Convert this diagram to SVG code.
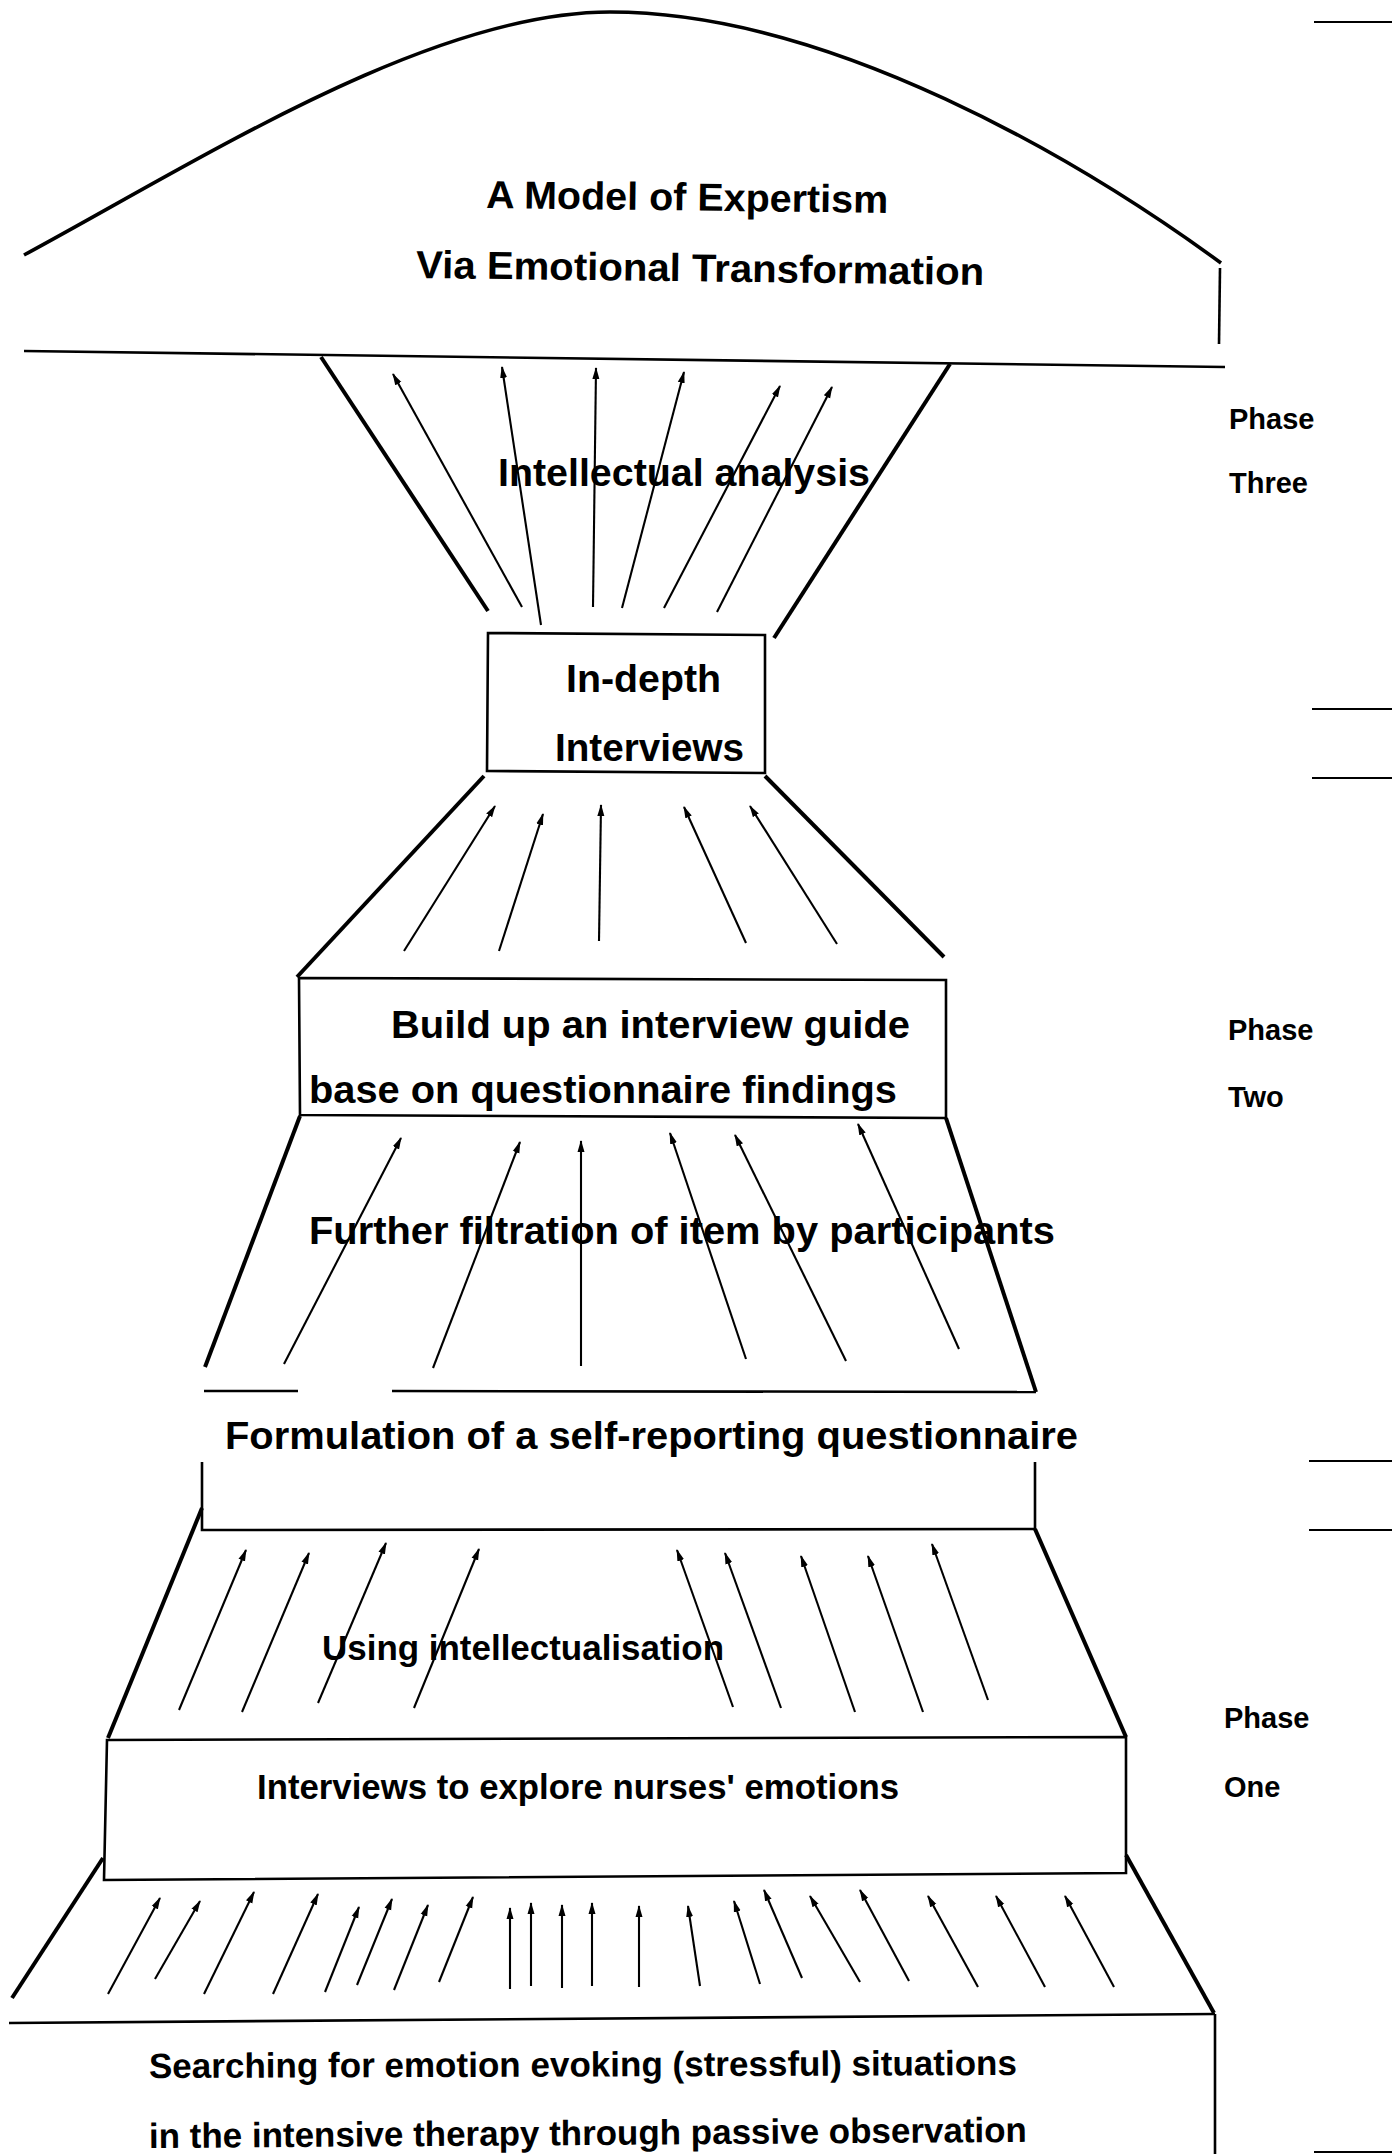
<svg xmlns="http://www.w3.org/2000/svg" width="1392" height="2154" viewBox="0 0 1392 2154">
<defs>
<style>
.t{font-family:"Liberation Sans",Arial,sans-serif;font-weight:bold;fill:#000}
.big{font-size:39px}
.mid{font-size:35px}
.ph{font-size:29px}
.thick{stroke:#000;stroke-width:4;fill:none;stroke-linecap:butt}
.edge{stroke:#000;stroke-width:2.6;fill:none}
.arr{stroke:#000;stroke-width:2.1;fill:none;marker-end:url(#ah)}
.mark{stroke:#000;stroke-width:2.2}
</style>
<marker id="ah" markerWidth="12" markerHeight="8" refX="11" refY="4" orient="auto" markerUnits="userSpaceOnUse">
<path d="M0,0.5 L12,4 L0,7.5 z" fill="#000"/>
</marker>
</defs>
<rect width="1392" height="2154" fill="#fff"/>

<g id="frame">
<path class="thick" style="stroke-width:3.6" d="M24,255 C200,160 430,12 610,12 C830,12 1080,160 1221,263"/>
<line class="edge" x1="1220" y1="268" x2="1219" y2="344"/>
<line class="edge" x1="24" y1="351" x2="1225" y2="367"/>
<line class="mark" x1="1314" y1="22" x2="1392" y2="22"/>
<line class="mark" x1="1312" y1="709" x2="1392" y2="709"/>
<line class="mark" x1="1312" y1="778" x2="1392" y2="778"/>
<line class="mark" x1="1309" y1="1461" x2="1392" y2="1461"/>
<line class="mark" x1="1309" y1="1530" x2="1392" y2="1530"/>
<line class="mark" x1="1314" y1="2152" x2="1392" y2="2152"/>
</g>

<g id="title">
<text class="t big" x="486" y="208" textLength="402" lengthAdjust="spacingAndGlyphs" transform="rotate(0.7 486 208)">A Model of Expertism</text>
<text class="t big" x="416" y="278" textLength="568" lengthAdjust="spacingAndGlyphs" transform="rotate(0.7 416 278)">Via Emotional Transformation</text>
</g>

<g id="phase-three">
<line class="thick" x1="321" y1="357" x2="488" y2="611"/>
<line class="thick" x1="950" y1="364" x2="774" y2="638"/>
<text class="t big" x="498" y="486" textLength="372" lengthAdjust="spacingAndGlyphs">Intellectual analysis</text>
<text class="t ph" x="1229" y="429">Phase</text>
<text class="t ph" x="1229" y="493">Three</text>
</g>

<g id="in-depth">
<polygon class="edge" points="488,633 765,635 765,773 487,771"/>
<text class="t big" x="566" y="692" textLength="155" lengthAdjust="spacingAndGlyphs">In-depth</text>
<text class="t big" x="555" y="761" textLength="189" lengthAdjust="spacingAndGlyphs">Interviews</text>
</g>

<g id="funnel-two">
<line class="thick" x1="484" y1="776" x2="297" y2="977"/>
<line class="thick" x1="765" y1="776" x2="944" y2="957"/>
</g>

<g id="build-guide">
<polygon class="edge" points="299,978 946,980 946,1118 300,1115"/>
<text class="t big" x="391" y="1038" textLength="519" lengthAdjust="spacingAndGlyphs">Build up an interview guide</text>
<text class="t big" x="309" y="1103" textLength="588" lengthAdjust="spacingAndGlyphs">base on questionnaire findings</text>
<text class="t ph" x="1228" y="1040">Phase</text>
<text class="t ph" x="1228" y="1107">Two</text>
</g>

<g id="filtration">
<line class="thick" x1="300" y1="1116" x2="205" y2="1367"/>
<line class="thick" x1="946" y1="1118" x2="1036" y2="1392"/>
<line class="edge" x1="204" y1="1391" x2="298" y2="1391"/>
<line class="edge" x1="392" y1="1391" x2="1036" y2="1392"/>
<text class="t big" x="309" y="1244" textLength="746" lengthAdjust="spacingAndGlyphs">Further filtration of item by participants</text>
</g>

<g id="questionnaire">
<polyline class="edge" points="202,1462 202,1530 1035,1529 1035,1462"/>
<text class="t big" x="225" y="1449" textLength="853" lengthAdjust="spacingAndGlyphs">Formulation of a self-reporting questionnaire</text>
</g>

<g id="intellectualisation">
<line class="thick" x1="202" y1="1508" x2="108" y2="1738"/>
<line class="thick" x1="1035" y1="1529" x2="1126" y2="1737"/>
<text class="t mid" x="322" y="1660" textLength="402" lengthAdjust="spacingAndGlyphs">Using intellectualisation</text>
</g>

<g id="interviews-emotions">
<polygon class="edge" points="107,1740 1126,1737 1126,1873 104,1880"/>
<text class="t mid" x="257" y="1799" textLength="642" lengthAdjust="spacingAndGlyphs">Interviews to explore nurses' emotions</text>
<text class="t ph" x="1224" y="1728">Phase</text>
<text class="t ph" x="1224" y="1797">One</text>
</g>

<g id="observation">
<line class="thick" x1="103" y1="1858" x2="12" y2="1998"/>
<line class="thick" x1="1126" y1="1855" x2="1214" y2="2013"/>
<line class="edge" x1="9" y1="2023" x2="1215" y2="2014"/>
<line class="edge" x1="1215" y1="2014" x2="1215" y2="2154"/>
<text class="t mid" x="149" y="2078" textLength="868" lengthAdjust="spacingAndGlyphs" transform="rotate(-0.2 149 2078)">Searching for emotion evoking (stressful) situations</text>
<text class="t mid" x="149" y="2148" textLength="878" lengthAdjust="spacingAndGlyphs" transform="rotate(-0.4 149 2148)">in the intensive therapy through passive observation</text>
</g>

<g id="connectors">
<line class="arr" x1="522" y1="607" x2="393" y2="374"/>
<line class="arr" x1="541" y1="625" x2="502" y2="367"/>
<line class="arr" x1="593" y1="607" x2="596" y2="368"/>
<line class="arr" x1="622" y1="608" x2="684" y2="372"/>
<line class="arr" x1="664" y1="608" x2="780" y2="386"/>
<line class="arr" x1="717" y1="612" x2="832" y2="387"/>

<line class="arr" x1="404" y1="951" x2="495" y2="806"/>
<line class="arr" x1="499" y1="951" x2="543" y2="814"/>
<line class="arr" x1="599" y1="941" x2="601" y2="805"/>
<line class="arr" x1="746" y1="943" x2="684" y2="807"/>
<line class="arr" x1="837" y1="944" x2="750" y2="806"/>

<line class="arr" x1="284" y1="1364" x2="401" y2="1138"/>
<line class="arr" x1="433" y1="1368" x2="520" y2="1142"/>
<line class="arr" x1="581" y1="1366" x2="581" y2="1141"/>
<line class="arr" x1="746" y1="1359" x2="670" y2="1133"/>
<line class="arr" x1="846" y1="1361" x2="735" y2="1135"/>
<line class="arr" x1="959" y1="1349" x2="858" y2="1124"/>

<line class="arr" x1="179" y1="1710" x2="246" y2="1550"/>
<line class="arr" x1="242" y1="1712" x2="309" y2="1553"/>
<line class="arr" x1="318" y1="1703" x2="386" y2="1543"/>
<line class="arr" x1="414" y1="1708" x2="479" y2="1549"/>
<line class="arr" x1="733" y1="1707" x2="677" y2="1550"/>
<line class="arr" x1="781" y1="1708" x2="725" y2="1553"/>
<line class="arr" x1="855" y1="1712" x2="801" y2="1556"/>
<line class="arr" x1="923" y1="1712" x2="868" y2="1556"/>
<line class="arr" x1="988" y1="1700" x2="932" y2="1544"/>

<line class="arr" x1="108" y1="1994" x2="160" y2="1898"/>
<line class="arr" x1="155" y1="1979" x2="200" y2="1901"/>
<line class="arr" x1="204" y1="1994" x2="254" y2="1892"/>
<line class="arr" x1="273" y1="1994" x2="318" y2="1894"/>
<line class="arr" x1="325" y1="1992" x2="359" y2="1907"/>
<line class="arr" x1="357" y1="1985" x2="392" y2="1899"/>
<line class="arr" x1="394" y1="1990" x2="428" y2="1905"/>
<line class="arr" x1="439" y1="1982" x2="473" y2="1897"/>
<line class="arr" x1="510" y1="1989" x2="510" y2="1908"/>
<line class="arr" x1="531" y1="1986" x2="531" y2="1903"/>
<line class="arr" x1="562" y1="1988" x2="562" y2="1905"/>
<line class="arr" x1="592" y1="1986" x2="592" y2="1903"/>
<line class="arr" x1="639" y1="1987" x2="639" y2="1906"/>
<line class="arr" x1="700" y1="1986" x2="688" y2="1906"/>
<line class="arr" x1="760" y1="1984" x2="734" y2="1901"/>
<line class="arr" x1="802" y1="1978" x2="764" y2="1890"/>
<line class="arr" x1="860" y1="1982" x2="810" y2="1896"/>
<line class="arr" x1="909" y1="1981" x2="860" y2="1890"/>
<line class="arr" x1="978" y1="1987" x2="928" y2="1896"/>
<line class="arr" x1="1045" y1="1987" x2="996" y2="1896"/>
<line class="arr" x1="1114" y1="1987" x2="1065" y2="1896"/>
</g>
</svg>
